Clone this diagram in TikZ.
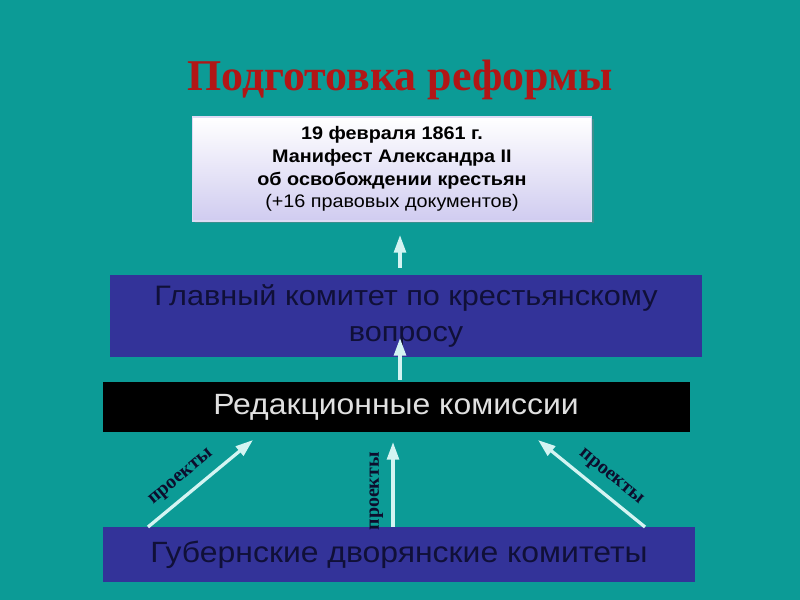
\documentclass[tikz,border=0pt]{standalone}
\usepackage{fontspec}
\setmainfont{Liberation Serif}
\setsansfont{Liberation Sans}
\newfontfamily\widesans[FakeStretch=1.09]{Liberation Sans}
\usetikzlibrary{arrows.meta,calc,shadows}

\definecolor{sea}{RGB}{12,155,150}
\definecolor{violet}{RGB}{51,51,153}
\definecolor{ink}{RGB}{16,16,56}
\definecolor{reform}{RGB}{178,22,22}
\definecolor{pale}{RGB}{212,244,242}
\definecolor{lilac}{RGB}{208,204,240}

\begin{document}
\begin{tikzpicture}[x=0.03cm,y=-0.03cm,
  box/.style={inner sep=0pt,align=center,font=\widesans},
  up/.style={draw=pale,line width=2.8pt,-{Triangle[length=15pt,width=10pt,fill=pale]}},
  proj/.style={font=\bfseries\fontsize{17}{17}\selectfont,text=ink!80!black,inner sep=2pt}
]
\def\px{0.03cm}
% background
\useasboundingbox (0,0) rectangle (800,600);
\fill[sea] (0,0) rectangle (800,600);

% title
\node[font=\bfseries\fontsize{37.5}{42}\selectfont,text=reform] (title) at (400,80) {Подготовка реформы};

% manifesto
\node[box,minimum width=399*\px,minimum height=104*\px,top color=white,bottom color=lilac,
  draw=lilac!70!white,line width=1pt,drop shadow={shadow xshift=2pt,shadow yshift=-2pt,opacity=.4},
  font=\widesans\fontsize{15.5}{19.5}\selectfont] (man) at (392,169)
  {\textbf{19 февраля 1861 г.}\\ \textbf{Манифест Александра II}\\ \textbf{об освобождении крестьян}\\ (+16 правовых документов)};

% committees
\node[box,fill=violet,text=ink,minimum width=592*\px,minimum height=82*\px,
  font=\widesans\fontsize{24}{30}\selectfont] (gk) at (406,316)
  {Главный комитет по крестьянскому\\ вопросу};
\node[box,fill=black,text=white!88!black,minimum width=587*\px,minimum height=50*\px,
  font=\widesans\fontsize{25}{28}\selectfont] (red) at (396,407) {Редакционные комиссии};
\node[box,fill=violet,text=ink,minimum width=592*\px,minimum height=55*\px,
  font=\widesans\fontsize{25}{28}\selectfont] (gub) at (399,555) {Губернские дворянские комитеты};

% arrow ends
\coordinate (m0) at (400,268);
\coordinate (m1) at (400,235);
\coordinate (g0) at (400,380);
\coordinate (g1) at (400,338);
\coordinate (gl) at (148,527);
\coordinate (rl) at (253,440);
\coordinate (gc) at (393,527);
\coordinate (rc) at (393,442);
\coordinate (gr) at (645,527);
\coordinate (rr) at (538,440);

\draw[up] (m0) -- (m1);
\draw[up] (g0) -- (g1);
\foreach \s/\e in {gl/rl,gc/rc,gr/rr}
  \draw[up] (\s) -- node[proj,sloped,above=5pt,pos=.42] {проекты} (\e);
\end{tikzpicture}
\end{document}
